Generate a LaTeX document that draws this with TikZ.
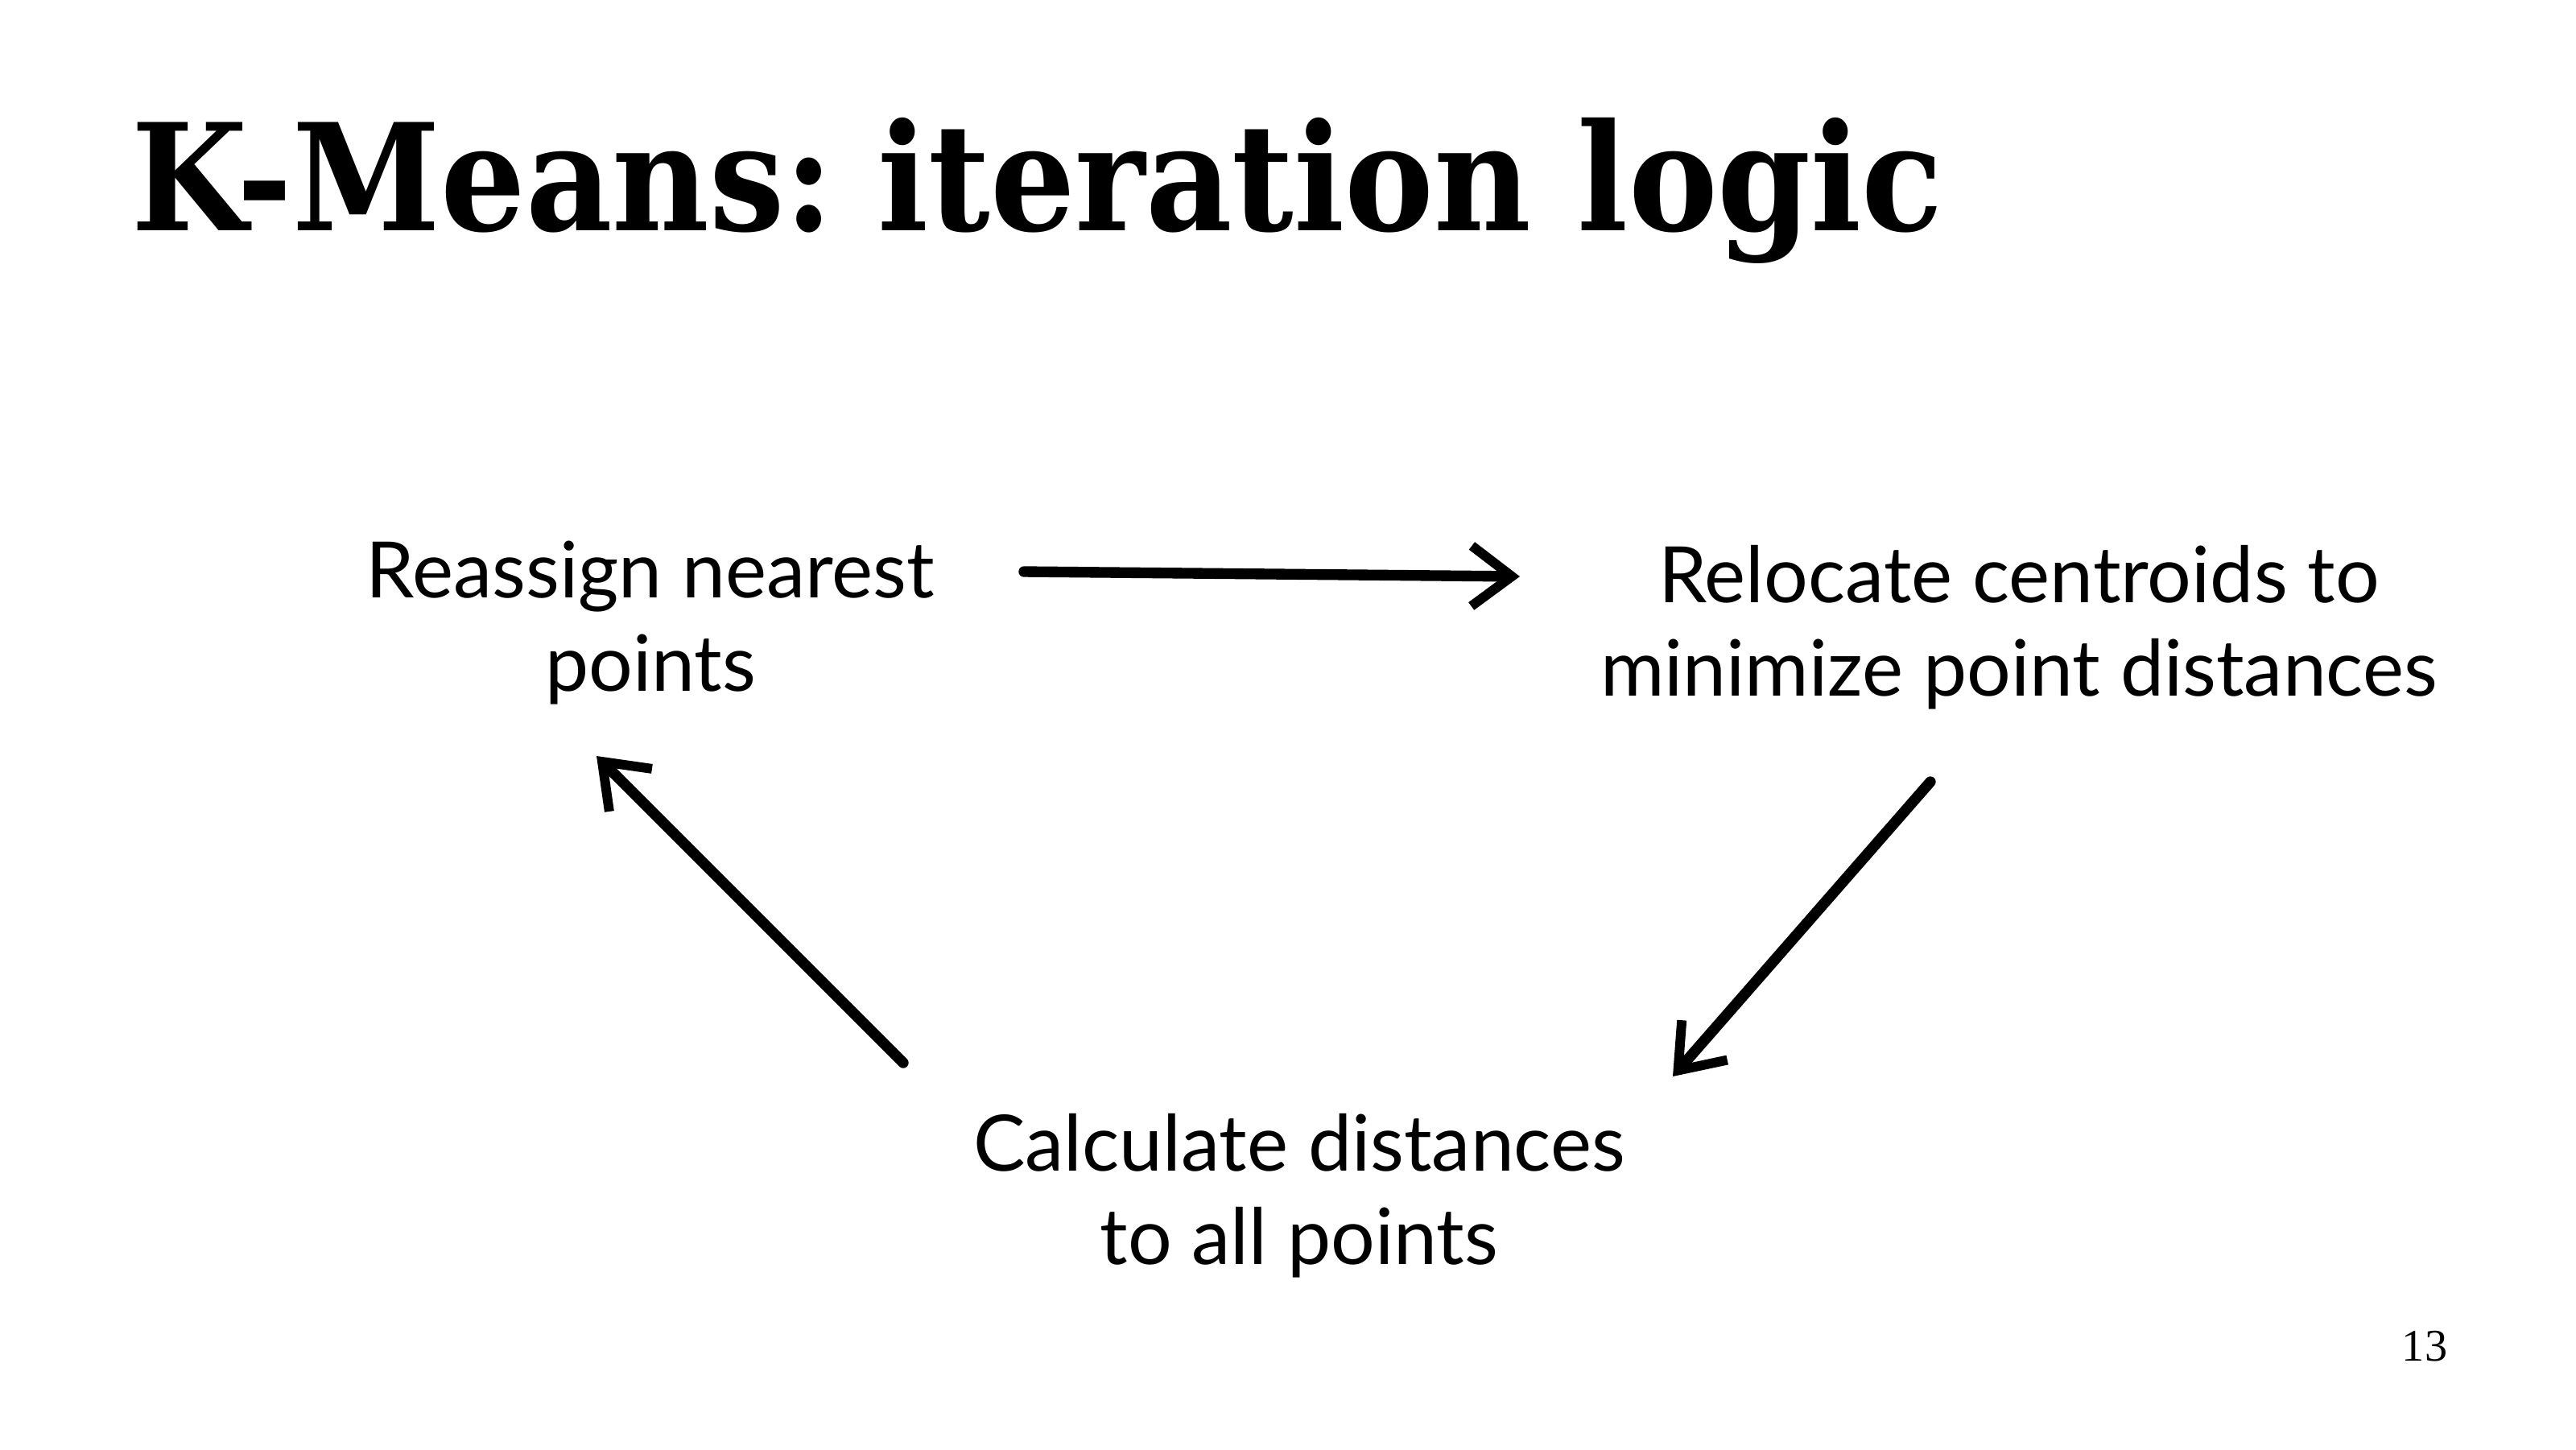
\documentclass[tikz,border=0pt]{standalone}
\usepackage{fontspec}
\setmainfont{Lato}
\newfontfamily\titlefont{DejaVu Serif Condensed}
\newfontfamily\pagefont{Liberation Serif}
\usetikzlibrary{arrows.meta}
\tikzset{
    step text/.style={align=center, font=\fontsize{27.5}{33}\selectfont, text=black},
    arrow/.style={-{Straight Barb[length=5mm, width=7.5mm, line width=3.4pt]}, line width=3.8pt, line cap=round, black}
}

\begin{document}
\begin{tikzpicture}
    \useasboundingbox (0,0) rectangle (32,-18);
    \node [anchor=base west, inner sep=0pt, font=\titlefont\bfseries\fontsize{52.5}{60}\selectfont] (title) at (1.63,-2.86) {K-Means:\hspace{-0.12em} iteration logic};
    \node [step text] (reassign) at (8.08,-7.74) {Reassign nearest\\points};
    \node [step text] (relocate) at (25.08,-7.79) {Relocate centroids to\\minimize point distances};
    \node [step text] (calc) at (16.14,-14.85) {Calculate distances\\to all points};
    \node [font=\pagefont\fontsize{16}{19}\selectfont] (page) at (30.12,-16.72) {13};
    % arrow ends
    \coordinate (a1) at (12.72,-7.10);
    \coordinate (b1) at (18.88,-7.16);
    \coordinate (a2) at (23.98,-9.71);
    \coordinate (b2) at (20.78,-13.37);
    \coordinate (a3) at (11.22,-13.20);
    \coordinate (b3) at (7.41,-9.39);
    \draw [arrow] (a1) -- (b1);
    \draw [arrow] (a2) -- (b2);
    \draw [arrow] (a3) -- (b3);
\end{tikzpicture}
\end{document}
